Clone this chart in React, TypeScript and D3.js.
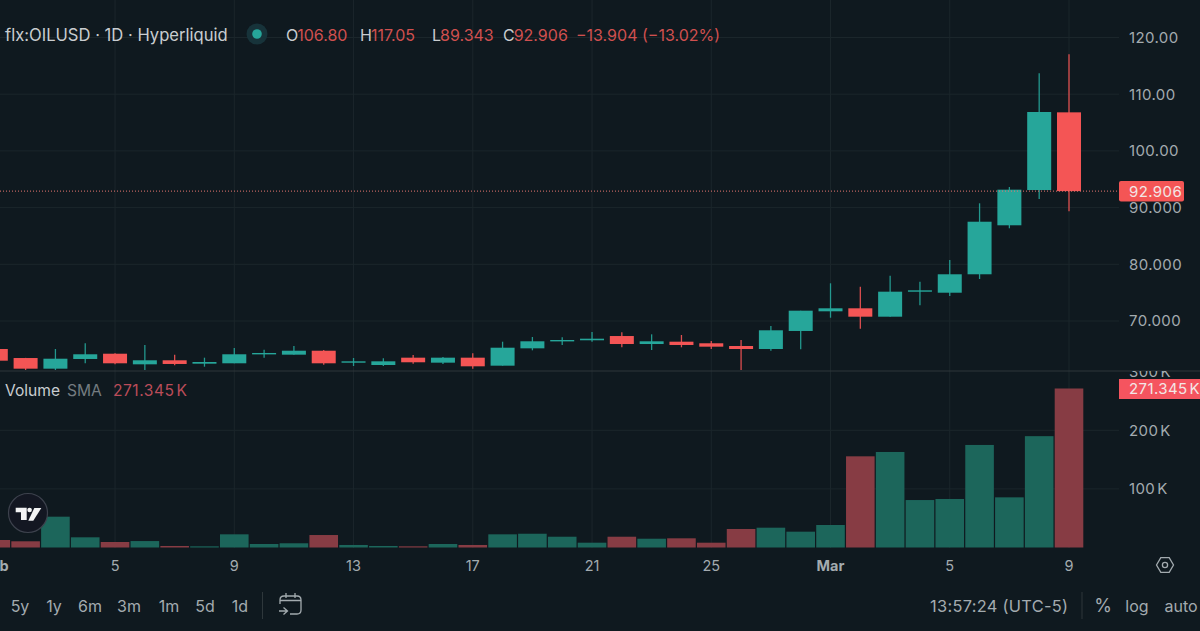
import * as d3 from 'd3';

const dayLabels = [
  'Feb', '2', '3', '4', '5', '6', '7', '8', '9', '10', '11', '12', '13', '14', '15', '16', '17', '18',
  '19', '20', '21', '22', '23', '24', '25', '26', '27', '28', 'Mar', '2', '3', '4', '5', '6', '7', '8', '9',
];
const opens = [
  65.06, 63.47, 61.59, 63.3, 64.23, 62.36, 63.07, 62.47, 62.54, 64.18, 64.06, 64.76, 62.65, 62.24, 63.53, 62.65, 63.53, 62.12,
  65.18, 66.47, 66.6, 67.35, 65.94, 66.35, 66.07, 65.59, 65.06, 68.24, 71.71, 72.24, 70.76, 75.17, 74.99, 78.24, 86.88, 93.1, 106.8,
];
const highs = [
  65.1, 63.5, 65.06, 66.07, 64.3, 65.77, 64.06, 63.53, 65.24, 64.94, 65.59, 64.89, 63.47, 63.42, 64.0, 63.65, 64.3, 66.35,
  67.18, 67.13, 68.06, 68.0, 67.65, 67.53, 66.47, 66.65, 69.12, 71.82, 76.65, 76.05, 77.99, 76.93, 80.76, 90.76, 93.63, 113.69, 117.05,
];
const lows = [
  63.0, 61.36, 61.36, 62.54, 62.36, 61.36, 62.19, 61.94, 62.54, 63.53, 64.06, 62.29, 62.06, 62.06, 62.47, 62.42, 61.59, 62.12,
  64.83, 65.77, 66.35, 65.36, 64.89, 65.36, 65.06, 61.36, 64.76, 65.0, 70.58, 68.64, 70.76, 72.77, 74.41, 77.41, 86.35, 91.52, 89.343,
];
const closes = [
  63.0, 61.59, 63.35, 64.13, 62.54, 63.07, 62.42, 62.77, 64.13, 64.36, 64.76, 62.54, 62.89, 62.89, 62.72, 63.53, 62.01, 65.29,
  66.42, 66.65, 66.88, 65.94, 66.42, 65.77, 65.47, 65.06, 68.36, 71.82, 72.24, 70.76, 75.17, 75.41, 78.24, 87.51, 93.16, 106.86, 92.906,
];
const volumes = [
  12.8, 10.6, 52.6, 17.4, 9.4, 11, 2.6, 2, 22.5, 6, 7.2, 21.3, 4.3, 2.6, 2, 6, 4.3, 22.5,
  23.5, 18.4, 8.2, 18.4, 15, 15.7, 8.2, 31.6, 33.8, 27, 38.4, 155.6, 163, 81, 82.8, 175, 85.6, 190, 271.345,
];

const priceTicks = [70, 80, 90, 100, 110, 120];
const volumeTicks = [100, 200, 300];
const timeTickIdx = [0, 4, 8, 12, 16, 20, 24, 28, 32, 36];
const ranges = ['5y', '1y', '6m', '3m', '1m', '5d', '1d'];
const rangeX = [20, 54, 90, 129, 169, 205, 240];

const BG = '#0f191f';
const GRID = '#1b262b';
const UP = '#26a69a';
const DOWN = '#f45555';
const UP_VOL = '#1c665b';
const DOWN_VOL = '#873c44';
const TXT = '#a3abaf';
const HEAD = '#c9cdd0';
const DIM_RED = '#d0504f';
const FONT = 'Inter, "Noto Sans", sans-serif';

const x = d3.scaleLinear().domain([0, 36]).range([-4.2, 1069]);
const y = d3.scaleLinear().domain([70, 120]).range([321, 37.5]);
const yVol = d3.scaleLinear().domain([0, 300]).range([547.5, 371.7]);

const priceFmt = (v: number) => (v >= 100 ? d3.format('.2f')(v) : d3.format('.3f')(v));
const last = closes[closes.length - 1];

export default function App() {
  return (
    <svg
      width={1200}
      height={631}
      viewBox="0 0 1200 631"
      style={{ position: 'fixed', left: 0, top: 0, display: 'block' }}
      fontFamily={FONT}
    >
      <defs>
        <clipPath id="price-pane">
          <rect x={0} y={0} width={1119} height={370.5} />
        </clipPath>
        <clipPath id="vol-axis">
          <rect x={1119} y={371} width={81} height={180} />
        </clipPath>
      </defs>
      <rect width={1200} height={631} fill={BG} />

      {/* grid */}
      {timeTickIdx.map((i) => (
        <line key={i} x1={x(i)} x2={x(i)} y1={0} y2={548} stroke={GRID} strokeWidth={1} />
      ))}
      {priceTicks.map((t) => (
        <line key={t} x1={0} x2={1119} y1={y(t)} y2={y(t)} stroke={GRID} strokeWidth={1} />
      ))}
      {volumeTicks.slice(0, 2).map((t) => (
        <line key={t} x1={0} x2={1119} y1={yVol(t)} y2={yVol(t)} stroke={GRID} strokeWidth={1} />
      ))}

      {/* candles */}
      <g clipPath="url(#price-pane)">
        {opens.map((o, i) => {
          const c = closes[i];
          const col = c < o ? DOWN : UP;
          const top = y(Math.max(o, c));
          const bottom = y(Math.min(o, c));
          return (
            <g key={i}>
              <line x1={x(i)} x2={x(i)} y1={y(highs[i])} y2={y(lows[i])} stroke={col} strokeWidth={1.3} opacity={0.9} />
              <rect x={x(i) - 12} y={top} width={24} height={Math.max(bottom - top, 1.4)} fill={col} />
            </g>
          );
        })}
      </g>

      {/* last price line */}
      <line x1={0} x2={1119} y1={y(last)} y2={y(last)} stroke="#e8776f" strokeWidth={1} strokeDasharray="1 2" />

      {/* pane separator */}
      <line x1={0} x2={1200} y1={371} y2={371} stroke="#2e373b" strokeWidth={1.2} />

      {/* volume */}
      {volumes.map((v, i) => (
        <rect
          key={i}
          x={x(i) - 14.3}
          y={yVol(v)}
          width={28.6}
          height={yVol(0) - yVol(v)}
          fill={closes[i] < opens[i] ? DOWN_VOL : UP_VOL}
        />
      ))}

      {/* price axis */}
      {priceTicks.map((t) => (
        <text key={t} x={1129} y={y(t)} dy="0.36em" fontSize={15} letterSpacing={0.4} fill={TXT}>
          {priceFmt(t)}
        </text>
      ))}
      <rect x={1119} y={181} width={65} height={20.5} rx={2} fill={DOWN} />
      <text x={1129} y={y(last)} dy="0.36em" fontSize={15} letterSpacing={0.4} fill="#f3e6e6">
        {priceFmt(last)}
      </text>

      {/* volume axis */}
      <g clipPath="url(#vol-axis)">
        {volumeTicks.map((t) => (
          <text key={t} x={1129} y={yVol(t)} dy="0.36em" fontSize={15} letterSpacing={0.4} fill={TXT}>
            {t}
            <tspan dx={2}>K</tspan>
          </text>
        ))}
      </g>
      <rect x={1119} y={379} width={81} height={20} fill="#f5545f" />
      <text x={1129} y={yVol(271.345) + 0.5} dy="0.36em" fontSize={15} letterSpacing={0.4} fill="#f3e6e6">
        271.345
        <tspan dx={2}>K</tspan>
      </text>

      {/* time axis */}
      {timeTickIdx.map((i) => {
        const bold = isNaN(+dayLabels[i]);
        return (
          <text
            key={i}
            x={x(i)}
            y={571}
            textAnchor="middle"
            fontSize={14.5}
            fontWeight={bold ? 700 : 400}
            fill={TXT}
          >
            {dayLabels[i]}
          </text>
        );
      })}

      {/* legend */}
      <text x={5} y={40.5} fontSize={16.6} fill={HEAD}>
        flx:OILUSD · 1D · Hyperliquid
      </text>
      <circle cx={257} cy={34} r={10.5} fill="#17333a" />
      <circle cx={257} cy={34} r={4.8} fill={UP} />
      <text y={40.5} fontSize={16} fill={DIM_RED}>
        <tspan x={286} fill={HEAD}>O</tspan>
        <tspan dx={-1}>106.80</tspan>
        <tspan x={360} fill={HEAD}>H</tspan>
        <tspan dx={-1}>117.05</tspan>
        <tspan x={432} fill={HEAD}>L</tspan>
        <tspan dx={-1}>89.343</tspan>
        <tspan x={503} fill={HEAD}>C</tspan>
        <tspan dx={-1}>92.906</tspan>
        <tspan x={576}>−13.904 (−13.02%)</tspan>
      </text>
      <text y={396} fontSize={15.6} fill={HEAD}>
        <tspan x={5}>Volume</tspan>
        <tspan x={67} fill="#747c81">SMA</tspan>
        <tspan x={113} fill="#bb4c59" letterSpacing={0.5}>271.345</tspan>
        <tspan dx={2} fill="#bb4c59">K</tspan>
      </text>

      {/* tradingview badge */}
      <circle cx={28} cy={513} r={19.5} fill="#131722" stroke="#3d424d" strokeWidth={1.2} />
      <path d="M15.7 507.7H26.7V520H21V512.2H15.7Z" fill="#f2f3f4" />
      <circle cx={29.6} cy={510} r={2.3} fill="#f2f3f4" />
      <path d="M34.3 508H41.3L33.3 520.7H28.3Z" fill="#f2f3f4" />

      {/* settings hexagon */}
      <path
        d="M1156.5 565L1160.8 557.6H1169.2L1173.5 565L1169.2 572.4H1160.8Z"
        fill="none"
        stroke={TXT}
        strokeWidth={1.3}
      />
      <circle cx={1165} cy={565} r={2.6} fill="none" stroke={TXT} strokeWidth={1.3} />

      {/* bottom toolbar */}
      {ranges.map((r, i) => (
        <text key={r} x={rangeX[i]} y={612} textAnchor="middle" fontSize={16} fill={TXT}>
          {r}
        </text>
      ))}
      <line x1={262.5} x2={262.5} y1={592} y2={619} stroke="#2e373b" />
      <g fill="none" stroke={TXT} strokeWidth={1.3}>
        <path d="M280 604V600Q280 596 284 596H297Q301 596 301 600V610Q301 614 297 614H290" />
        <path d="M280 600.5H301M286 593V598M295 593V598" />
        <path d="M279 611H287M283.5 607.5L287.5 611L283.5 614.5" />
      </g>
      <text x={930} y={612} fontSize={16.4} letterSpacing={0.3} fill={TXT}>
        13:57:24 (UTC-5)
      </text>
      <line x1={1082} x2={1082} y1={592} y2={619} stroke="#2e373b" />
      <text x={1103} y={612} textAnchor="middle" fontSize={18} fill={TXT}>%</text>
      <text x={1137} y={612} textAnchor="middle" fontSize={16} fill={TXT}>log</text>
      <text x={1181} y={612} textAnchor="middle" fontSize={16} fill={TXT}>auto</text>
    </svg>
  );
}
